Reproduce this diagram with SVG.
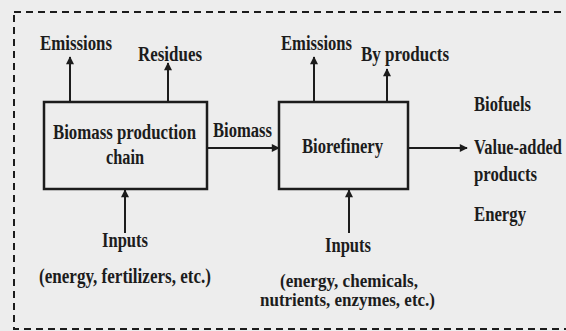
<svg xmlns="http://www.w3.org/2000/svg" width="566" height="331" viewBox="0 0 566 331">
  <style>
    text { font-family: "Liberation Serif", "DejaVu Serif", serif; font-weight: bold; font-size: 20px; fill: #1c1c1c; }
    .small { font-size: 18px; }
    .box { fill: none; stroke: #1c1c1c; stroke-width: 2.5; }
    .edge { fill: none; stroke: #1c1c1c; stroke-width: 2; marker-end: url(#arrow); }
    .frame { fill: none; stroke: #1c1c1c; stroke-width: 2; stroke-dasharray: 7 5; }
  </style>
  <defs>
    <marker id="arrow" viewBox="0 0 10 10" refX="9" refY="5" markerWidth="4.5" markerHeight="4" orient="auto" markerUnits="strokeWidth">
      <path d="M0,0 L10,5 L0,10 z" fill="#1c1c1c"/>
    </marker>
  </defs>
  <rect width="566" height="331" fill="#ededed"/>
  <rect class="frame" x="14" y="12" width="600" height="317"/>

  <g id="connectors">
    <line class="edge" x1="70" y1="102" x2="70" y2="57"/>
    <line class="edge" x1="168" y1="102" x2="168" y2="63"/>
    <line class="edge" x1="207" y1="148" x2="279" y2="148"/>
    <line class="edge" x1="314" y1="102" x2="314" y2="57"/>
    <line class="edge" x1="387" y1="102" x2="387" y2="69"/>
    <line class="edge" x1="408" y1="148" x2="467" y2="148"/>
    <line class="edge" x1="125" y1="233" x2="125" y2="190"/>
    <line class="edge" x1="349" y1="233" x2="349" y2="190"/>
    <text x="213" y="137" textLength="59" lengthAdjust="spacingAndGlyphs">Biomass</text>
  </g>

  <g id="biomass-chain">
    <rect class="box" x="44" y="102" width="163" height="87"/>
    <text x="53" y="139" textLength="143" lengthAdjust="spacingAndGlyphs">Biomass production</text>
    <text x="106" y="164" textLength="38" lengthAdjust="spacingAndGlyphs">chain</text>
  </g>

  <g id="biorefinery">
    <rect class="box" x="279" y="102" width="129" height="87"/>
    <text x="302" y="153" textLength="81" lengthAdjust="spacingAndGlyphs">Biorefinery</text>
  </g>

  <g id="chain-emissions">
    <text x="40" y="50" textLength="72" lengthAdjust="spacingAndGlyphs">Emissions</text>
  </g>
  <g id="chain-residues">
    <text x="138" y="61" textLength="64" lengthAdjust="spacingAndGlyphs">Residues</text>
  </g>
  <g id="chain-inputs">
    <text x="102" y="247" textLength="46" lengthAdjust="spacingAndGlyphs">Inputs</text>
    <text x="39" y="283" textLength="172" lengthAdjust="spacingAndGlyphs">(energy, fertilizers, etc.)</text>
  </g>

  <g id="refinery-emissions">
    <text x="281" y="50" textLength="71" lengthAdjust="spacingAndGlyphs">Emissions</text>
  </g>
  <g id="refinery-byproducts">
    <text x="361" y="61" textLength="88" lengthAdjust="spacingAndGlyphs">By products</text>
  </g>
  <g id="refinery-inputs">
    <text x="325" y="252" textLength="46" lengthAdjust="spacingAndGlyphs">Inputs</text>
    <text class="small" x="280" y="287" textLength="138" lengthAdjust="spacingAndGlyphs">(energy, chemicals,</text>
    <text class="small" x="260" y="306" textLength="175" lengthAdjust="spacingAndGlyphs">nutrients, enzymes, etc.)</text>
  </g>

  <g id="outputs">
    <text x="474" y="111" textLength="57" lengthAdjust="spacingAndGlyphs">Biofuels</text>
    <text x="474" y="154" textLength="88" lengthAdjust="spacingAndGlyphs">Value-added</text>
    <text x="474" y="181" textLength="63" lengthAdjust="spacingAndGlyphs">products</text>
    <text x="474" y="221" textLength="52" lengthAdjust="spacingAndGlyphs">Energy</text>
  </g>
</svg>
